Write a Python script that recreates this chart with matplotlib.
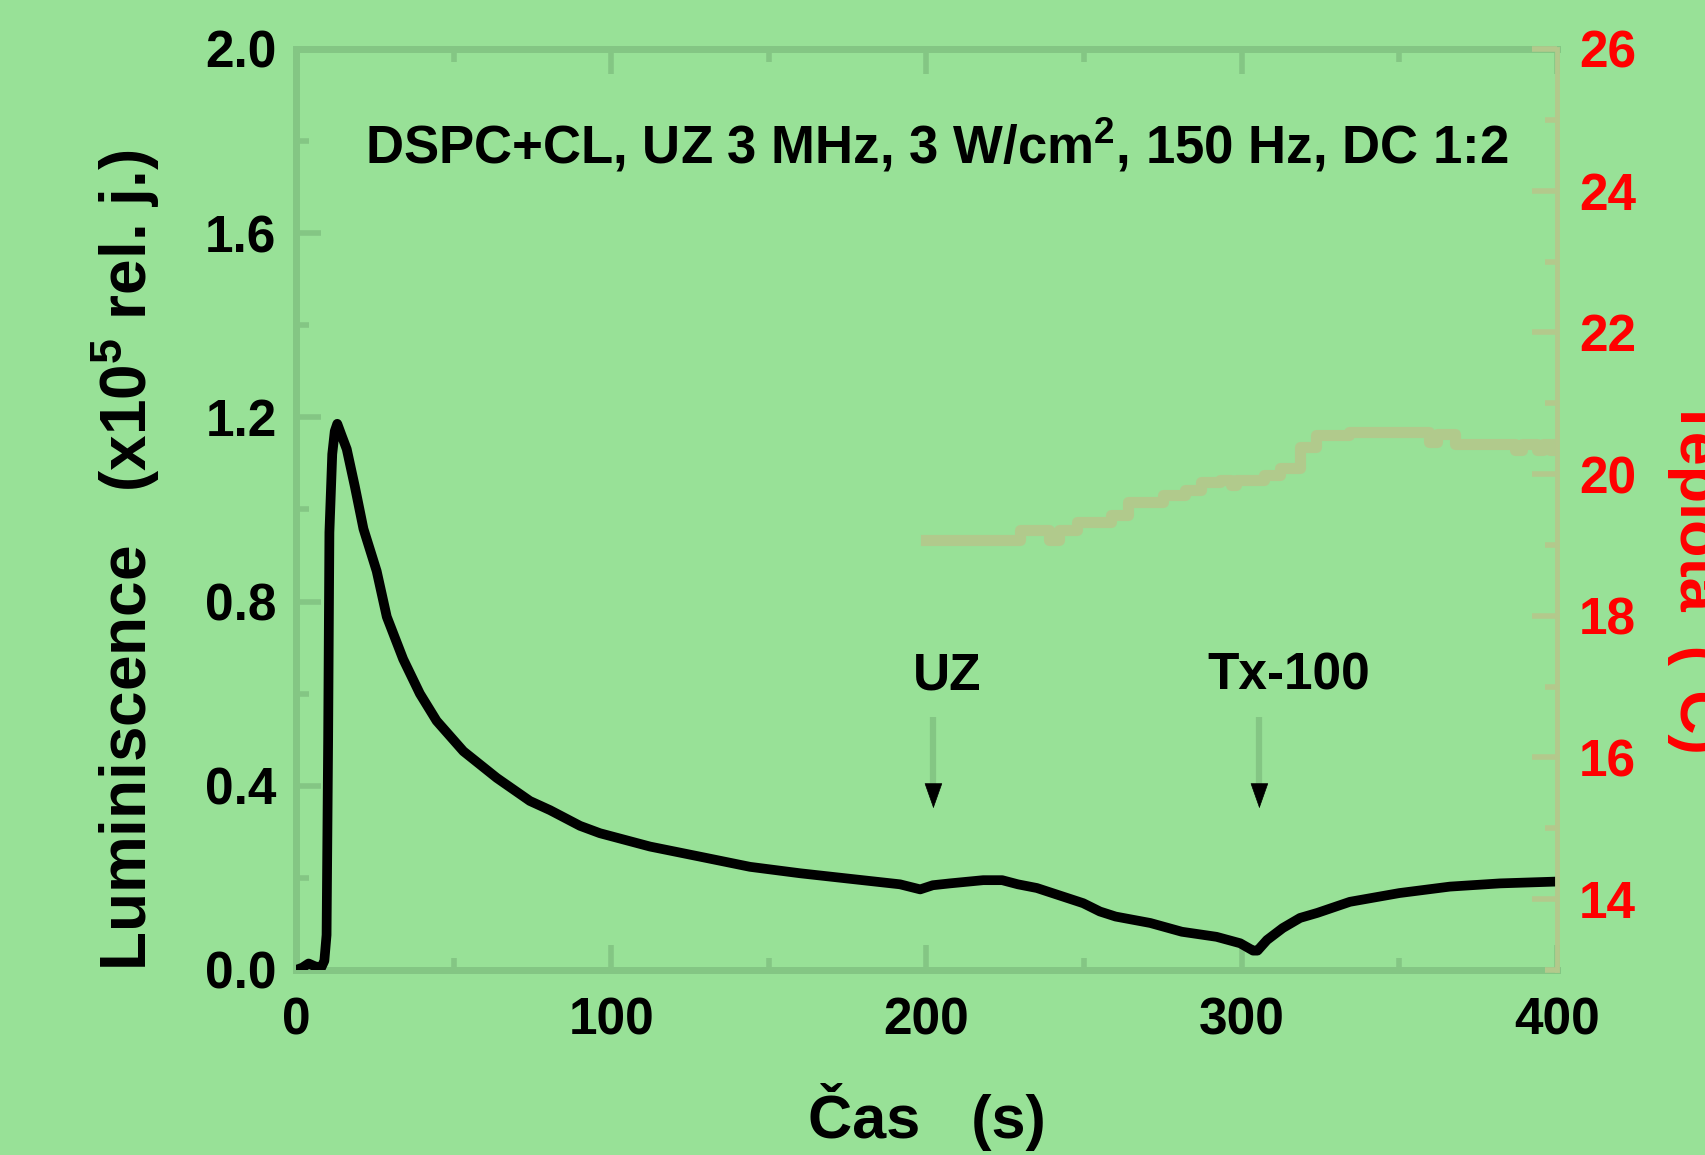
import matplotlib
matplotlib.use("Agg")
import matplotlib.pyplot as plt
from matplotlib.ticker import FixedLocator, FormatStrFormatter

plt.rcParams['font.family'] = ['Liberation Sans', 'DejaVu Sans']
plt.rcParams['font.weight'] = 'bold'
plt.rcParams['mathtext.fontset'] = 'custom'
plt.rcParams['mathtext.rm'] = 'Liberation Sans:bold'
plt.rcParams['mathtext.bf'] = 'Liberation Sans:bold'
plt.rcParams['mathtext.it'] = 'Liberation Sans:bold'

# ---- data ----
lum_t = [0, 2, 4, 6, 8, 9, 9.7, 10.2, 10.6, 11.5, 12.3, 13.1, 14.5, 16.1, 18.7,
         21.4, 25.6, 28.8, 34, 39.3, 44.6, 53.1, 63.7, 74.2, 80.6, 90.1, 96.4,
         112.3, 128.2, 144, 159.9, 175.7, 191.6, 198, 202, 207.4, 218, 224, 229,
         235, 249.7, 255, 260, 271, 281, 292, 299.5, 303.6, 305, 308, 313, 318.5,
         324, 334.3, 350, 366, 381.9, 400]
lum_v = [0.0, 0.005, 0.014, 0.008, 0.005, 0.02, 0.076, 0.5, 0.95, 1.12, 1.17,
         1.186, 1.16, 1.131, 1.049, 0.958, 0.866, 0.767, 0.675, 0.6, 0.541, 0.475,
         0.417, 0.367, 0.347, 0.313, 0.297, 0.268, 0.246, 0.224, 0.210, 0.198,
         0.186, 0.175, 0.184, 0.188, 0.195, 0.195, 0.186, 0.178, 0.145, 0.127,
         0.116, 0.102, 0.083, 0.072, 0.058, 0.042, 0.042, 0.065, 0.091, 0.113,
         0.124, 0.148, 0.167, 0.181, 0.188, 0.192]

temp_t = [200, 229.8, 238.7, 241.9, 247.8, 258.4, 264, 275, 282, 287, 293, 296.5,
          298.3, 307, 312, 318.5, 323.5, 334, 359.4, 362, 367.8, 386.8, 389,
          393.6, 395.5, 397.7, 400]
temp_v = [19.07, 19.21, 19.07, 19.21, 19.32, 19.42, 19.61, 19.70, 19.77, 19.89,
          19.91, 19.84, 19.91, 19.98, 20.08, 20.38, 20.55, 20.59, 20.45, 20.57,
          20.43, 20.34, 20.43, 20.34, 20.43, 20.34, 20.43]

x_ticks = [0, 100, 200, 300, 400]
x_minor = [50, 150, 250, 350]
y_ticks = [0.0, 0.4, 0.8, 1.2, 1.6, 2.0]
y_minor = [0.2, 0.6, 1.0, 1.4, 1.8]
t_ticks = [14, 16, 18, 20, 22, 24, 26]
t_minor = [13, 15, 17, 19, 21, 23, 25]

events_t = [202.2, 305.6]
event_labels = ["UZ", "Tx-100"]
event_label_x = [206.6, 314.8]

note = "DSPC+CL, UZ 3 MHz, 3 W/cm$^2$, 150 Hz, DC 1:2"

# ---- style ----
bg = '#98e197'
spine_green = '#84c684'
tan = '#b3c98c'
red = '#ff0000'

fig = plt.figure(figsize=(17.05, 11.55), dpi=100)
fig.patch.set_facecolor(bg)
ax = fig.add_axes([0.1736, 0.1602, 0.7396, 0.7974])
ax.set_facecolor('none')
ax2 = ax.twinx()
ax2.set_facecolor('none')

ax.set_xlim(0, 400)
ax.set_ylim(0, 2.0)
ax2.set_ylim(13, 26)

# temperature
ax2.plot(temp_t, temp_v, drawstyle='steps-post', color=tan, lw=8, alpha=0.95,
         solid_joinstyle='round', zorder=2)
# luminescence
ax.plot(lum_t, lum_v, color='black', lw=7, solid_joinstyle='round',
        solid_capstyle='butt', zorder=5, clip_on=True)

# event arrows
for et, lab, lx in zip(events_t, event_labels, event_label_x):
    ax.plot([et, et], [0.549, 0.39], color=spine_green, lw=4.5, solid_capstyle='butt', zorder=3)
    ax.annotate('', xy=(et, 0.351), xytext=(et, 0.40),
                arrowprops=dict(arrowstyle='-|>,head_length=0.85,head_width=0.3',
                                color='black', lw=0.5, shrinkA=0, shrinkB=0,
                                mutation_scale=20), zorder=4)
    ax.text(lx, 0.608, lab, ha='center', va='baseline', fontsize=37,
            fontweight='bold', color='black')

ax.text(203.3, 1.752, note, ha='center', va='baseline', fontsize=38,
        fontweight='bold', color='black')

# spines
for s in ['left', 'bottom', 'top']:
    ax.spines[s].set_color(spine_green)
    ax.spines[s].set_linewidth(5)
ax.spines['right'].set_visible(False)
for s in ['left', 'bottom', 'top']:
    ax2.spines[s].set_visible(False)
ax2.spines['right'].set_color(tan)
ax2.spines['right'].set_linewidth(3.5)

# ticks
ax.xaxis.set_major_locator(FixedLocator(x_ticks))
ax.xaxis.set_minor_locator(FixedLocator(x_minor))
ax.yaxis.set_major_locator(FixedLocator(y_ticks))
ax.yaxis.set_minor_locator(FixedLocator(y_minor))
ax.yaxis.set_major_formatter(FormatStrFormatter('%.1f'))
ax.tick_params(which='both', direction='in', color=spine_green, width=4,
               top=True, right=False, labelsize=37, labelcolor='black')
ax.tick_params(which='major', length=18)
ax.tick_params(which='minor', length=9)
ax.tick_params(axis='x', which='both', pad=19)
ax.tick_params(axis='y', which='both', pad=14)
for lbl in ax.get_xticklabels() + ax.get_yticklabels():
    lbl.set_fontweight('bold')

ax2.yaxis.set_major_locator(FixedLocator(t_ticks))
ax2.yaxis.set_minor_locator(FixedLocator(t_minor))
ax2.tick_params(which='both', direction='in', color=tan, width=4,
                labelsize=37, labelcolor=red, pad=16, left=False, right=True)
ax2.tick_params(which='major', length=18)
ax2.tick_params(which='minor', length=9)
for lbl in ax2.get_yticklabels():
    lbl.set_fontweight('bold')

# axis labels
fig.text(0.5434, 0.0147, "Čas   (s)", ha='center', va='baseline', fontsize=44,
         fontweight='bold', color='black')
fig.text(0.074, 0.515, "Luminiscence   (x10$^5$ rel. j.)", rotation=90,
         ha='center', va='center', fontsize=46, fontweight='bold', color='black')
fig.text(0.9777, 0.501, "Teplota  (°C)", rotation=-90, ha='left', va='center',
         fontsize=44, fontweight='bold', color=red)

fig.savefig('out.png', dpi=100, facecolor=fig.get_facecolor())
